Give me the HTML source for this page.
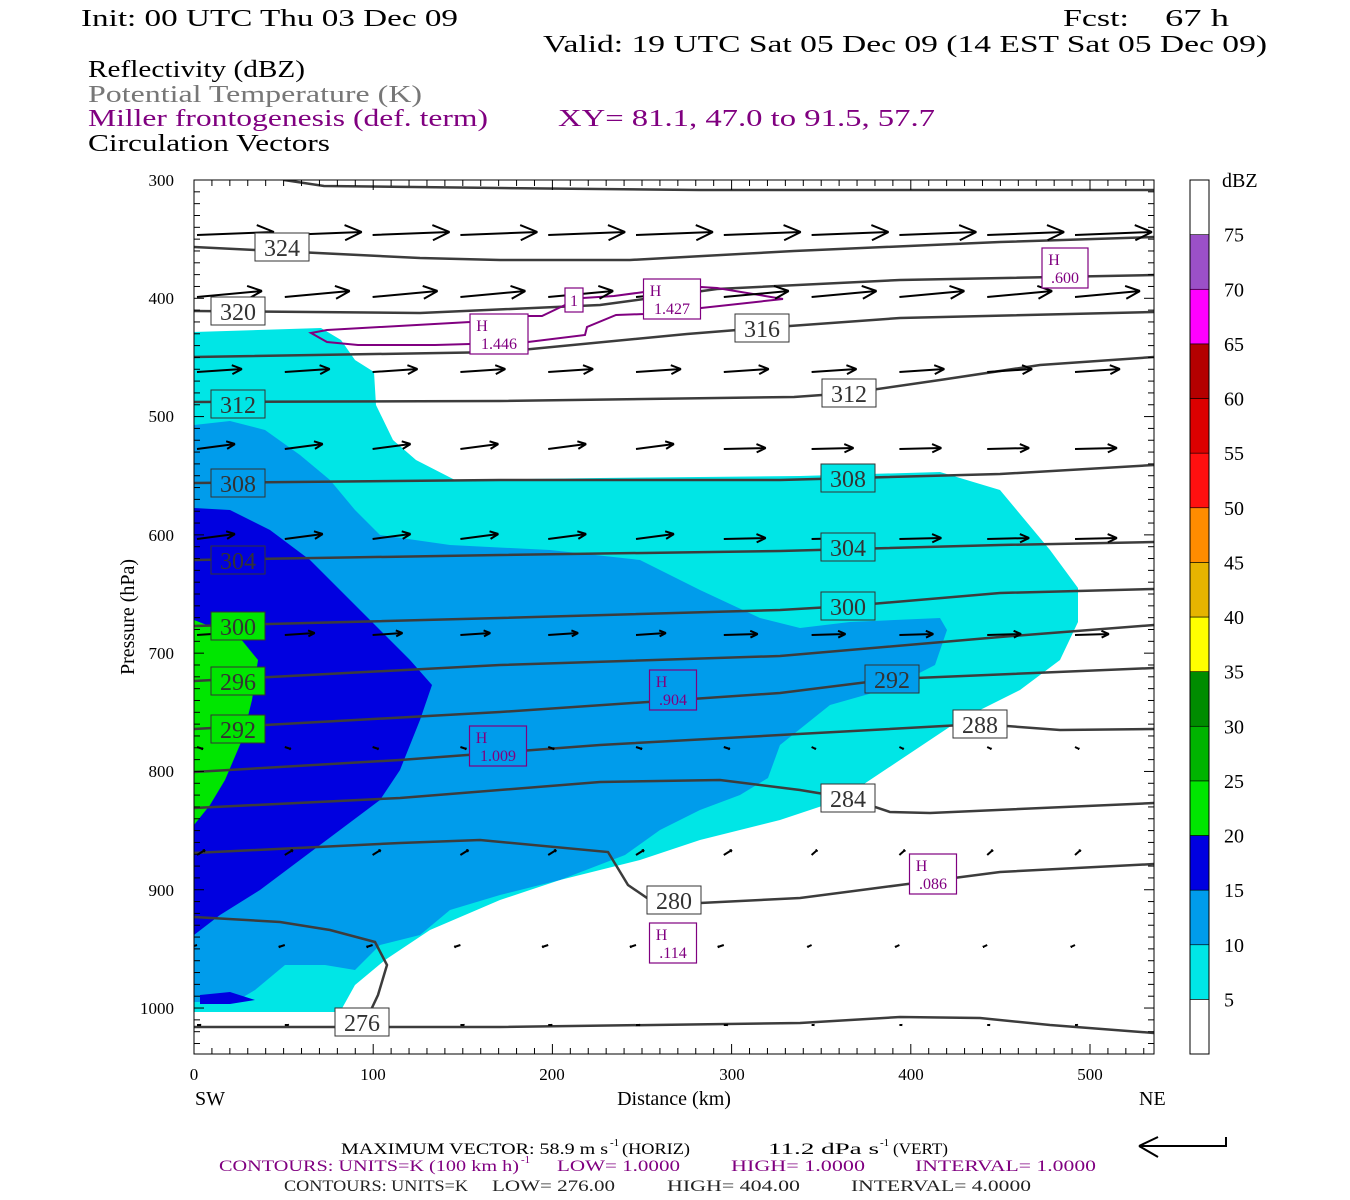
<!DOCTYPE html>
<html><head><meta charset="utf-8">
<style>
html,body{margin:0;padding:0;background:#fff;}
svg{display:block;font-family:"Liberation Serif",serif;}
</style></head><body>
<svg id="s" width="1350" height="1200" viewBox="0 0 1350 1200" xmlns="http://www.w3.org/2000/svg">
<rect width="1350" height="1200" fill="#fff"/>
<g font-size="24" fill="#000">
<text x="81" y="26" textLength="377" lengthAdjust="spacingAndGlyphs">Init: 00 UTC Thu 03 Dec 09</text>
<text x="1063" y="26" font-size="24" textLength="66" lengthAdjust="spacingAndGlyphs">Fcst:</text>
<text x="1165" y="26" font-size="24" textLength="64" lengthAdjust="spacingAndGlyphs">67 h</text>
<text x="543" y="52" textLength="724" lengthAdjust="spacingAndGlyphs">Valid: 19 UTC Sat 05 Dec 09 (14 EST Sat 05 Dec 09)</text>
<text x="88" y="77" textLength="217" lengthAdjust="spacingAndGlyphs">Reflectivity (dBZ)</text>
<text x="88" y="102" fill="#777" textLength="334" lengthAdjust="spacingAndGlyphs">Potential Temperature (K)</text>
<text x="88" y="126" fill="#800080" textLength="400" lengthAdjust="spacingAndGlyphs">Miller frontogenesis (def. term)</text>
<text x="558" y="126" fill="#800080" textLength="377" lengthAdjust="spacingAndGlyphs">XY=  81.1, 47.0 to  91.5, 57.7</text>
<text x="88" y="151" textLength="242" lengthAdjust="spacingAndGlyphs">Circulation Vectors</text>
</g>
<defs><clipPath id="cp"><rect x="194" y="180" width="960" height="874"/></clipPath></defs>
<g clip-path="url(#cp)">
<path fill="#00e6e6" d="M194,332 L321,328 L341,340 L355,360 L374,372 L376,405 L393,440 L416,460 L455,480 L600,478 L800,476 L940,472 L1000,490 L1050,550 L1078,588 L1078,622 L1060,660 L1020,690 L960,720 L900,760 L840,800 L780,820 L700,840 L640,860 L560,880 L500,900 L430,930 L385,960 L355,985 L340,1012 L194,1012 Z"/>
<path fill="#009ceb" d="M194,425 L230,421 L265,430 L300,455 L330,480 L355,510 L380,535 L450,545 L550,550 L640,560 L700,590 L760,618 L800,628 L850,622 L940,618 L947,630 L935,665 L890,688 L830,705 L805,725 L780,745 L768,778 L740,795 L700,810 L660,830 L625,855 L560,880 L500,895 L450,910 L420,935 L380,945 L355,970 L325,965 L285,965 L255,990 L235,1002 L194,1002 Z"/>
<path fill="#0000e0" d="M194,508 L230,510 L270,530 L310,560 L350,600 L380,630 L410,660 L432,685 L420,720 L400,770 L380,800 L340,830 L300,860 L260,890 L220,915 L194,935 Z"/>
<path fill="#0000e0" d="M200,995 L230,992 L255,1000 L230,1004 L200,1004 Z"/>
<path fill="#00e600" d="M194,620 L240,638 L258,660 L252,700 L242,740 L225,780 L210,805 L194,825 Z"/>
<g fill="none" stroke="#3c3c3c" stroke-width="2.5">
<path d="M284,180 L324,186 L500,188 L700,190 L900,190 L1154,190"/>
<path d="M194,247 L420,258 L500,260 L630,260 L794,251 L1000,242 L1154,237"/>
<path d="M194,311 L420,313 L600,305 L717,289 L900,280 L1154,275"/>
<path d="M194,357 L500,352 L687,334 L762,328 L900,318 L1154,312"/>
<path d="M194,402 L500,401 L794,397 L850,393 L940,380 L1040,365 L1154,357"/>
<path d="M194,483 L500,480 L780,480 L1000,474 L1154,465"/>
<path d="M194,560 L500,555 L780,551 L1000,545 L1154,542"/>
<path d="M194,626 L500,618 L780,610 L848,606 L1000,593 L1154,589"/>
<path d="M194,681 L500,665 L780,656 L1000,637 L1154,625"/>
<path d="M194,729 L500,712 L780,693 L892,679 L1154,668"/>
<path d="M194,772 L400,760 L600,745 L780,735 L980,724 L1060,730 L1154,729"/>
<path d="M194,808 L400,798 L600,782 L720,780 L800,790 L848,798 L890,812 L930,813 L1154,803"/>
<path d="M194,853 L400,843 L480,840 L608,852 L628,885 L650,900 L700,903 L800,898 L900,885 L1000,872 L1154,864"/>
<path d="M194,1027 L500,1027 L800,1023 L900,1017 L980,1018 L1050,1025 L1154,1033"/>
<path d="M194,917 L280,922 L330,930 L375,942 L387,965 L378,995 L370,1012"/>
</g>
<path fill="none" stroke="#800080" stroke-width="2" d="M311,333 L327,330 L470,322 L528,316 L542,316 L565,305 L583,298 L614,296 L644,292 L701,287 L717,288 L783,299 L701,308 L644,314 L616,315 L587,327 L585,335 L528,342 L470,344 L435,345 L358,345 L327,342 Z"/>
<g id="arrows" stroke="#000" stroke-width="2" fill="none"></g>
</g>
<g id="labels" font-size="24" fill="#333" text-anchor="middle"></g>
<g id="hl" fill="#800080" font-size="16" text-anchor="middle"></g>
<rect x="194" y="180" width="960" height="874" fill="none" stroke="#000" stroke-width="1"/>
<g id="ticks" stroke="#000" stroke-width="1"></g>
<g font-size="17" fill="#000" text-anchor="end">
<text x="174" y="186">300</text><text x="174" y="304">400</text><text x="174" y="422">500</text><text x="174" y="541">600</text>
<text x="174" y="659">700</text><text x="174" y="777">800</text><text x="174" y="896">900</text><text x="174" y="1014">1000</text>
</g>
<g font-size="17" fill="#000" text-anchor="middle">
<text x="194" y="1080">0</text><text x="373" y="1080">100</text><text x="552" y="1080">200</text><text x="732" y="1080">300</text>
<text x="911" y="1080">400</text><text x="1090" y="1080">500</text>
</g>
<text x="195" y="1105" font-size="20">SW</text>
<text x="1139" y="1105" font-size="20">NE</text>
<text x="674" y="1105" font-size="20" text-anchor="middle">Distance (km)</text>
<text transform="translate(134,617) rotate(-90)" font-size="20" text-anchor="middle">Pressure (hPa)</text>
<g id="cb" stroke="#000" stroke-width="1"></g>
<text x="1222" y="187" font-size="20">dBZ</text>
<g id="cbl" font-size="20" fill="#000"></g>
<g font-size="16">
<g fill="#000">
<text x="341" y="1154" textLength="267" lengthAdjust="spacingAndGlyphs">MAXIMUM VECTOR:  58.9 m s</text>
<text x="610" y="1146" font-size="11">-1</text>
<text x="622" y="1154" textLength="68" lengthAdjust="spacingAndGlyphs">(HORIZ)</text>
<text x="768" y="1154" textLength="111" lengthAdjust="spacingAndGlyphs">11.2 dPa s</text>
<text x="880" y="1146" font-size="11">-1</text>
<text x="893" y="1154" textLength="55" lengthAdjust="spacingAndGlyphs">(VERT)</text>
</g>
<g fill="#800080">
<text x="219" y="1171" textLength="300" lengthAdjust="spacingAndGlyphs">CONTOURS:  UNITS=K (100 km h)</text>
<text x="521" y="1163" font-size="11">-1</text>
<text x="557" y="1171" textLength="123" lengthAdjust="spacingAndGlyphs">LOW=  1.0000</text>
<text x="731" y="1171" textLength="134" lengthAdjust="spacingAndGlyphs">HIGH=  1.0000</text>
<text x="915" y="1171" textLength="181" lengthAdjust="spacingAndGlyphs">INTERVAL=   1.0000</text>
</g>
<g fill="#222">
<text x="284" y="1191" textLength="184" lengthAdjust="spacingAndGlyphs">CONTOURS:  UNITS=K</text>
<text x="492" y="1191" textLength="123" lengthAdjust="spacingAndGlyphs">LOW=  276.00</text>
<text x="667" y="1191" textLength="133" lengthAdjust="spacingAndGlyphs">HIGH=  404.00</text>
<text x="851" y="1191" textLength="180" lengthAdjust="spacingAndGlyphs">INTERVAL=   4.0000</text>
</g>
</g>
<path d="M1139,1146 L1226,1146 L1226,1137 M1139,1146 L1158,1137 M1139,1146 L1158,1157" stroke="#000" stroke-width="2" fill="none"/>
</svg>
<script>
const NS="http://www.w3.org/2000/svg";
function el(p,t,a,txt){const e=document.createElementNS(NS,t);for(const k in a)e.setAttribute(k,a[k]);if(txt!==undefined)e.textContent=txt;document.getElementById(p).appendChild(e);return e;}
const rows=[[233,77,-3],[295,65,-6],[370,45,-3],[447,38,-5],[537,38,-5],[633,30,-2],[745,6,2],[853,8,-5],[943,-6,2],[1023,4,0]];
const cols=[];for(let x=194;x<1160;x+=87.8)cols.push(x);
rows.forEach(([y,dx,dy],ri)=>{cols.forEach((x,ci)=>{let ddx=dx,ddy=dy;
 if(ri>=3&&ri<=5&&ci>5){ddy=-1;ddx=dx+4;}
 if(ri>=6&&ci>6){ddx=dx*0.7;}
 const x1=x+3,y1=y+2,x2=x1+ddx,y2=y1+ddy;
 const L=Math.hypot(ddx,ddy);if(L<1)return;
 const ux=ddx/L,uy=ddy/L,h=Math.min(L*0.22,17);
 const d=`M${x1},${y1} L${x2},${y2} M${x2},${y2} L${x2-h*ux-h*0.45*uy},${y2-h*uy+h*0.45*ux} M${x2},${y2} L${x2-h*ux+h*0.45*uy},${y2-h*uy-h*0.45*ux}`;
 el("arrows","path",{d});});});
const C="#00e6e6",LB="#009ceb",B="#0000e0",G="#00e600",W="#fff";
[[282,247,"324",W],[238,311,"320",W],[762,328,"316",W],[238,404,"312",C],[849,393,"312",W],[238,483,"308",LB],[848,478,"308",C],[238,560,"304",B],[848,547,"304",C],[238,626,"300",G],[848,606,"300",C],[238,681,"296",G],[238,729,"292",G],[892,679,"292",LB],[980,724,"288",W],[848,798,"284",W],[674,900,"280",W],[362,1022,"276",W]].forEach(([x,y,t,f])=>{
 el("labels","rect",{x:x-27,y:y-14,width:54,height:28,fill:f,stroke:"#333","stroke-width":1});
 el("labels","text",{x:x,y:y+9},t);});
[[1065,268,".600",W,46],[673,690,".904",LB,47],[498,746,"1.009",LB,57],[933,874,".086",W,47],[673,943,".114",W,47],[499,334,"1.446",W,58],[672,299,"1.427",W,57]].forEach(([x,y,t,f,w])=>{
 el("hl","rect",{x:x-w/2,y:y-20,width:w,height:40,fill:f,stroke:"#800080","stroke-width":1.2});
 el("hl","text",{x:x-w/2+12,y:y-3},"H");
 el("hl","text",{x:x,y:y+15},t);});
el("hl","rect",{x:565,y:288,width:18,height:24,fill:"#fff",stroke:"#800080","stroke-width":1.2});
el("hl","text",{x:574,y:306},"1");
for(let p=300;p<=1030;p+=10){const y=180+(p-300)*1.1829;const l=(p%100==0)?10:6;
 el("ticks","line",{x1:194,y1:y,x2:194+l,y2:y});el("ticks","line",{x1:1154,y1:y,x2:1154-l,y2:y});}
for(let d=0;d<=535;d+=10){const x=194+d*1.792;const l=(d%100==0)?10:6;
 el("ticks","line",{x1:x,y1:180,x2:x,y2:180+l});el("ticks","line",{x1:x,y1:1054,x2:x,y2:1054-l});}
const cols2=["#fff","#00e6e6","#009ceb","#0000e0","#00e600","#00b400","#008c00","#ffff00","#e6b400","#ff8c00","#ff1010","#dc0000","#b40000","#ff00ff","#9b50c8","#fff"];
const h=874/16;
cols2.forEach((c,i)=>{const y=1054-(i+1)*h;el("cb","rect",{x:1190,y:y,width:19,height:h,fill:c,"stroke-width":0.6});});
el("cb","rect",{x:1190,y:180,width:19,height:874,fill:"none"});
for(let i=1;i<=15;i++){const y=1054-i*h;el("cbl","text",{x:1224,y:y+7},String(i*5));}
</script>
</body></html>
